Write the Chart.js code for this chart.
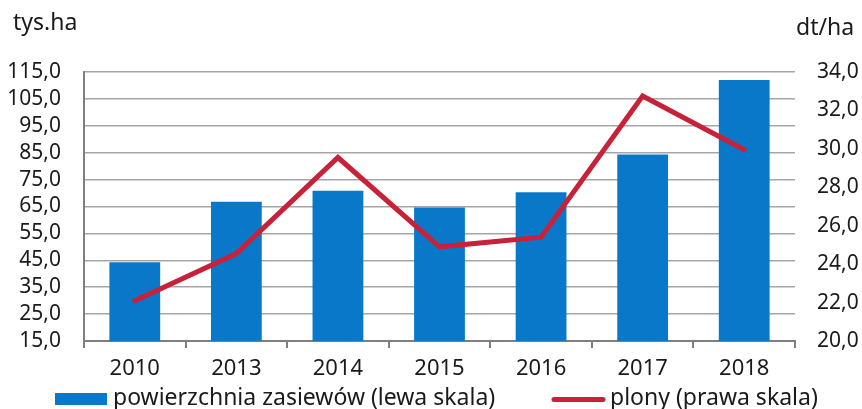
<!DOCTYPE html>
<html>
<head>
<meta charset="utf-8">
<script src="https://cdn.jsdelivr.net/npm/chart.js@4"></script>
<style>
    html, body { margin: 0; padding: 0; background: #fff; }
</style>
</head>
<body>
<canvas id="chart" width="862" height="409"></canvas>
<script>
// data
const years = ['2010', '2013', '2014', '2015', '2016', '2017', '2018'];
const sownArea = [44.3, 66.8, 70.9, 64.6, 70.3, 84.3, 112.0];   // tys.ha (left)
const yields = [22.1, 24.55, 29.55, 24.9, 25.4, 32.75, 29.95];   // dt/ha (right)
const leftRange = [15, 115, 10];
const rightRange = [20, 34, 2];
const barLabel = 'powierzchnia zasiewów (lewa skala)';
const lineLabel = 'plony (prawa skala)';

const BLUE = '#0a78c8';
const RED = '#c8213a';
const TEXT = '#1a1a1a';
const FONT = '"Noto Sans", sans-serif';

Chart.defaults.font.family = FONT;
Chart.defaults.font.size = 21;
Chart.defaults.color = TEXT;

const fmt = v => v.toFixed(1).replace('.', ',');

// unit labels + legend drawn straight on the canvas
const extras = {
    id: 'extras',
    afterDraw(chart) {
        const c = chart.ctx;
        c.save();
        c.font = '23px ' + FONT;
        c.fillStyle = TEXT;
        c.textBaseline = 'alphabetic';
        c.textAlign = 'left';
        c.fillText('tys.ha', 13, 30);
        c.fillText('dt/ha', 796, 35);

        c.fillStyle = BLUE;
        c.fillRect(55, 393, 52, 12);
        c.fillStyle = TEXT;
        c.fillText(barLabel, 113, 405);

        c.strokeStyle = RED;
        c.lineWidth = 5;
        c.lineCap = 'round';
        c.beginPath();
        c.moveTo(554, 399.5);
        c.lineTo(603, 399.5);
        c.stroke();
        c.fillText(lineLabel, 610, 405);
        c.restore();
    }
};

new Chart(document.getElementById('chart').getContext('2d'), {
    data: {
        labels: years,
        datasets: [
            {
                type: 'line',
                label: lineLabel,
                data: yields,
                yAxisID: 'yRight',
                borderColor: RED,
                borderWidth: 5,
                pointRadius: 0,
                tension: 0,
                borderJoinStyle: 'miter',
                borderCapStyle: 'round',
                order: 1
            },
            {
                type: 'bar',
                label: barLabel,
                data: sownArea,
                yAxisID: 'yLeft',
                backgroundColor: BLUE,
                borderWidth: 0,
                categoryPercentage: 1,
                barPercentage: 0.5,
                order: 2
            }
        ]
    },
    options: {
        responsive: false,
        animation: false,
        layout: { padding: { top: 72, left: 0, right: 0, bottom: 0 } },
        plugins: {
            legend: { display: false },
            tooltip: { enabled: false }
        },
        scales: {
            x: {
                afterFit: s => { s.height = 68; },
                grid: {
                    offset: true,
                    drawOnChartArea: false,
                    drawTicks: true,
                    tickLength: 7,
                    color: '#7f7f7f',
                    lineWidth: 2
                },
                border: { display: true, color: '#7f7f7f', width: 2 },
                ticks: { padding: 8, color: TEXT, font: { size: 22 } }
            },
            yLeft: {
                position: 'left',
                min: leftRange[0],
                max: leftRange[1],
                afterFit: s => { s.width = 84; },
                grid: { color: '#a6a6a6', lineWidth: 1.5, drawTicks: false },
                border: { display: true, color: '#7f7f7f', width: 2 },
                ticks: { stepSize: leftRange[2], autoSkip: false, padding: 23, color: TEXT, callback: v => fmt(v) }
            },
            yRight: {
                position: 'right',
                min: rightRange[0],
                max: rightRange[1],
                afterFit: s => { s.width = 67; },
                grid: { display: false, drawOnChartArea: false, drawTicks: false },
                border: { display: false },
                ticks: { stepSize: rightRange[2], autoSkip: false, padding: 22, color: TEXT, callback: v => fmt(v) }
            }
        }
    },
    plugins: [extras]
});
</script>
</body>
</html>
